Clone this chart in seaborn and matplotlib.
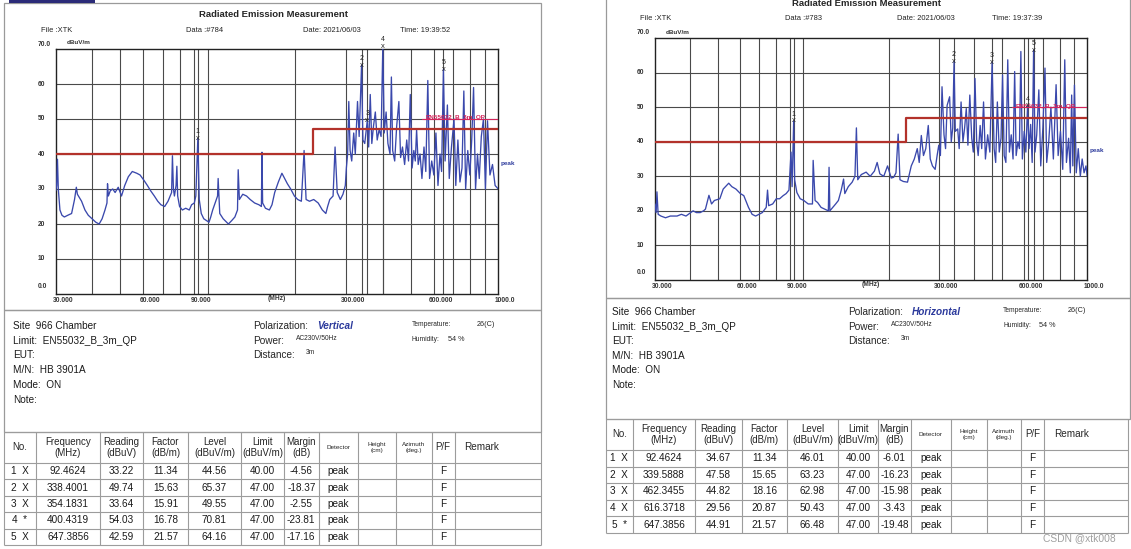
import matplotlib
matplotlib.use("Agg")
import matplotlib.pyplot as plt
import matplotlib.transforms as mtransforms
from matplotlib.patches import Rectangle
import pandas as pd
import seaborn as sns

##### data read off the two reports
# spectrum, vertical polarization (Data #784)
v_freq = [30.0, 30.2, 30.4, 30.6, 31.0, 31.5, 32.1, 33.0, 34.0, 34.8,
          35.3, 35.6, 36.2, 36.8, 37.8, 38.8, 40.0, 41.2, 42.3, 43.3,
          44.3, 45.0, 45.2, 45.5, 46.2, 47.1, 48.0, 49.2, 50.5, 51.8,
          53.3, 55.0, 57.0, 58.5, 60.3, 62.0, 63.6, 65.5, 67.3, 69.0,
          71.1, 73.0, 75.1, 75.6, 76.2, 76.8, 77.8, 78.3, 78.8, 80.0,
          81.8, 84.0, 86.4, 88.0, 89.9, 91.0, 92.46, 93.5, 95.0, 96.9,
          99.0, 101.0, 102.4, 104.0, 106.0, 108.1, 108.6, 110.0, 113.0, 117.8,
          121.0, 124.0, 126.6, 127.3, 128.5, 132.0, 136.0, 140.0, 145.0, 150.0,
          153.0, 153.7, 154.5, 158.0, 163.0, 166.4, 170.0, 175.0, 180.0, 184.0,
          188.0, 193.0, 198.7, 204.0, 210.0, 214.6, 218.0, 224.0, 231.6, 240.0,
          248.0, 255.0, 258.6, 263.0, 270.0, 274.3, 279.0, 286.0, 292.0, 297.5,
          300.0, 303.0, 305.8, 309.0, 313.0, 318.0, 322.0, 327.7, 332.0, 338.4,
          342.0, 347.0, 354.18, 358.0, 362.5, 367.0, 372.0, 377.4, 383.0, 389.0,
          395.0, 400.43, 405.0, 411.0, 417.0, 424.0, 428.6, 433.0, 440.0, 447.0,
          454.8, 461.0, 468.0, 476.0, 484.0, 491.0, 497.8, 505.0, 512.0, 518.0,
          523.4, 530.0, 538.0, 546.0, 555.0, 563.0, 572.0, 580.0, 590.0, 600.0,
          610.0, 620.0, 630.0, 638.0, 647.39, 656.0, 668.0, 678.0, 690.0, 704.0,
          714.0, 726.0, 738.0, 750.0, 761.0, 772.0, 785.0, 798.0, 810.0, 822.0,
          835.0, 848.0, 860.0, 874.0, 889.0, 903.0, 918.0, 936.0, 955.0, 975.0,
          1000.0]
v_level = [29.5, 31.0, 38.5, 30.0, 24.0, 22.5, 22.0, 22.5, 23.0, 27.0,
           30.5, 28.5, 27.5, 26.5, 24.0, 22.5, 21.5, 20.5, 20.0, 21.5,
           24.0, 26.0, 31.5, 28.0, 29.5, 30.0, 29.0, 30.5, 28.0, 31.0,
           33.5, 35.0, 34.5, 34.0, 32.5, 31.0, 29.5, 28.0, 26.5, 25.5,
           25.0, 26.5, 29.0, 39.5, 30.0, 28.0, 31.0, 36.5, 28.0, 25.0,
           24.0, 24.5, 24.0, 25.5, 26.0, 28.0, 44.5, 27.0, 23.0, 21.5,
           21.0, 20.5, 22.0, 24.0, 26.0, 28.0, 33.0, 23.0, 21.5, 20.0,
           21.0, 22.0, 24.0, 35.5, 27.0, 28.5, 28.0, 27.0, 26.0, 25.5,
           25.0, 40.5, 26.0, 24.5, 24.0, 25.5, 29.0, 32.0, 34.5, 33.0,
           31.5, 30.0, 28.0, 27.0, 26.5, 41.0, 27.0, 26.5, 27.0, 26.0,
           24.0, 23.0, 25.0, 27.0, 28.0, 42.0, 29.0, 27.0, 28.5, 31.0,
           36.0, 40.0, 55.0, 41.0, 38.0, 46.0, 40.0, 55.0, 45.0, 65.4,
           44.0, 43.0, 49.6, 42.0, 57.0, 43.0, 48.0, 52.0, 44.0, 47.0,
           45.0, 70.8, 46.0, 52.0, 43.0, 40.0, 62.0, 41.0, 38.0, 48.0,
           55.0, 39.0, 42.0, 37.0, 44.0, 38.0, 57.0, 36.0, 41.0, 38.0,
           47.0, 37.0, 40.0, 33.0, 42.0, 35.0, 61.0, 33.0, 38.0, 34.0,
           46.0, 31.0, 40.0, 35.0, 64.2, 38.0, 54.0, 33.0, 42.0, 50.0,
           31.0, 44.0, 32.0, 36.0, 58.0, 30.0, 41.0, 34.0, 44.0, 59.0,
           30.0, 40.0, 33.0, 45.0, 50.0, 30.0, 49.5, 34.0, 37.0, 31.0,
           30.0]

# spectrum, horizontal polarization (Data #783)
h_freq = [30.0, 30.3, 30.5, 30.8, 31.5, 32.7, 34.0, 35.9, 37.2, 38.6,
          40.9, 42.0, 43.3, 44.5, 45.2, 46.5, 47.5, 48.6, 50.8, 52.2,
          54.6, 56.0, 57.9, 60.0, 61.7, 64.1, 66.0, 67.9, 71.7, 74.0,
          74.8, 75.5, 78.0, 80.3, 82.5, 84.9, 87.0, 89.0, 90.5, 91.3,
          92.46, 93.2, 94.9, 97.5, 100.4, 104.0, 107.7, 108.3, 110.0, 112.3,
          115.5, 118.9, 122.5, 123.2, 124.0, 127.0, 130.0, 132.9, 136.0, 138.6,
          140.0, 144.0, 148.6, 152.0, 153.8, 155.5, 160.0, 166.4, 172.0, 178.0,
          182.0, 186.0, 192.0, 198.0, 204.0, 208.0, 212.0, 215.8, 219.0, 225.0,
          232.8, 240.0, 246.0, 252.0, 256.0, 260.4, 265.0, 270.0, 275.5, 280.0,
          285.0, 291.3, 296.0, 300.0, 304.0, 308.0, 313.0, 317.0, 321.0, 327.6,
          332.0, 336.0, 339.6, 343.0, 349.8, 354.0, 359.5, 365.0, 370.0, 375.0,
          380.0, 385.9, 392.0, 397.0, 402.4, 408.0, 413.0, 419.7, 425.0, 431.4,
          438.0, 446.0, 454.0, 462.35, 470.0, 476.0, 482.5, 490.0, 497.0, 503.3,
          510.0, 517.0, 525.0, 532.0, 540.0, 548.0, 555.2, 562.0, 570.0, 577.0,
          583.9, 591.0, 600.0, 608.0, 616.37, 624.0, 632.0, 640.0, 647.39, 655.0,
          664.0, 675.5, 686.0, 698.0, 710.0, 720.0, 732.0, 745.0, 760.0, 777.0,
          790.0, 805.0, 820.0, 833.6, 845.0, 860.0, 872.0, 881.6, 890.0, 901.8,
          915.0, 930.0, 945.6, 960.0, 975.0, 990.0, 1000.0]
h_level = [22.0, 19.5, 25.5, 19.0, 18.5, 18.0, 18.5, 18.5, 19.0, 18.5,
           20.0, 19.5, 19.5, 20.0, 20.5, 24.5, 22.0, 23.0, 23.5, 26.3,
           28.0, 27.0, 26.3, 25.0, 24.4, 21.0, 19.0, 18.5, 19.5, 21.0,
           26.0, 21.5, 22.0, 23.5, 23.5, 24.4, 25.0, 26.0, 37.0, 27.0,
           46.0, 29.0, 25.3, 23.5, 23.0, 22.0, 22.0, 34.6, 23.0, 22.4,
           21.0, 20.5, 20.0, 32.6, 20.0, 21.0, 22.0, 23.0, 26.0, 29.2,
           25.0, 27.0, 28.3, 30.0, 44.0, 29.0, 30.5, 31.2, 30.0, 31.5,
           34.0, 30.7, 30.0, 33.0, 29.5, 29.7, 31.0, 42.2, 29.0, 28.5,
           28.3, 33.0, 35.0, 38.0, 34.0, 41.8, 36.0, 38.0, 44.7, 35.0,
           33.0, 32.0, 36.0, 39.0, 36.0, 55.9, 42.0, 38.0, 50.5, 53.0,
           40.0, 44.0, 63.2, 43.0, 43.7, 38.0, 51.5, 40.0, 44.0, 49.6,
           39.0, 53.5, 41.0, 37.0, 58.3, 40.0, 36.0, 44.7, 38.0, 51.5,
           35.0, 42.0, 37.0, 63.0, 38.0, 34.0, 51.5, 37.0, 41.0, 59.3,
           36.0, 34.0, 63.7, 37.0, 42.0, 35.0, 60.3, 36.0, 40.0, 38.0,
           66.1, 35.0, 43.0, 37.0, 50.4, 38.0, 45.0, 34.0, 66.5, 37.0,
           42.0, 55.0, 33.0, 44.0, 61.3, 34.0, 40.0, 50.0, 35.0, 56.5,
           36.0, 43.0, 32.0, 63.7, 34.0, 41.0, 31.0, 53.5, 33.0, 56.4,
           31.0, 38.0, 30.0, 35.0, 31.0, 33.0, 30.0]

# EN55032 class B 3m QP limit
lim_freq = [30, 230, 230, 1000]
lim_level = [40, 40, 47, 47]

# marker tables
v_mark_no = ['1  X', '2  X', '3  X', '4  *', '5  X']
v_mark_freq = [92.4624, 338.4001, 354.1831, 400.4319, 647.3856]
v_reading = [33.22, 49.74, 33.64, 54.03, 42.59]
v_factor = [11.34, 15.63, 15.91, 16.78, 21.57]
v_mark_level = [44.56, 65.37, 49.55, 70.81, 64.16]
v_limit = [40.00, 47.00, 47.00, 47.00, 47.00]
v_margin = [-4.56, -18.37, -2.55, -23.81, -17.16]

h_mark_no = ['1  X', '2  X', '3  X', '4  X', '5  *']
h_mark_freq = [92.4624, 339.5888, 462.3455, 616.3718, 647.3856]
h_reading = [34.67, 47.58, 44.82, 29.56, 44.91]
h_factor = [11.34, 15.65, 18.16, 20.87, 21.57]
h_mark_level = [46.01, 63.23, 62.98, 50.43, 66.48]
h_limit = [40.00, 47.00, 47.00, 47.00, 47.00]
h_margin = [-6.01, -16.23, -15.98, -3.43, -19.48]

x_ticks = [30, 60, 90, 300, 600, 1000]
x_tick_labels = ['30.000', '60.000', '90.000', '300.000', '600.000', '1000.0']
y_ticks = [70, 60, 50, 40, 30, 20, 10, 0]
y_tick_labels = ['70.0', '60', '50', '40', '30', '20', '10', '0.0']
grid_freq = [40, 50, 60, 70, 80, 90, 100, 200, 300, 400, 500, 600, 700, 800, 900]
grid_level = [10, 20, 30, 40, 50, 60]

col_heads = ['No.', 'Frequency\n(MHz)', 'Reading\n(dBuV)', 'Factor\n(dB/m)', 'Level\n(dBuV/m)',
             'Limit\n(dBuV/m)', 'Margin\n(dB)', 'Detector', 'Height\n(cm)', 'Azimuth\n(deg.)',
             'P/F', 'Remark']

TRACE = '#3a48ac'
LIMIT = '#b3322b'
ENRED = '#d3245a'
GRID = '#4a4a4a'
FRAME = '#9a9a9a'
NAVY = '#2c3a9c'

sns.set_style('white')
plt.rcParams['font.family'] = ['Liberation Sans', 'DejaVu Sans']

W, H = 1131, 549
fig = plt.figure(figsize=(W / 100, H / 100), dpi=100)
canvas = fig.add_axes([0, 0, 1, 1])
canvas.set_xlim(0, W)
canvas.set_ylim(H, 0)
canvas.axis('off')


def rect(x0, y0, x1, y1):
    return [x0 / W, 1 - y1 / H, (x1 - x0) / W, (y1 - y0) / H]


def frame(x0, y0, x1, y1, color=FRAME, lw=0.9):
    canvas.add_patch(Rectangle((x0, y0), x1 - x0, y1 - y0, fill=False, ec=color, lw=lw))


def put(ax, x, y, s, trans, dx=0, dy=0, **kw):
    tr = mtransforms.offset_copy(trans, fig=fig, x=dx, y=dy, units='dots')
    ax.text(x, y, s, transform=tr, **kw)


def chart(box, freq, level, mk_freq, mk_level):
    ax = fig.add_axes(rect(*box))
    ax.set_xscale('log')
    for g in grid_freq:
        ax.axvline(g, color=GRID, lw=0.8, zorder=1)
    for g in grid_level:
        ax.axhline(g, color=GRID, lw=0.8, zorder=1)
    for f in mk_freq:
        ax.axvline(f, color=GRID, lw=0.8, zorder=1)
    df = pd.DataFrame({'freq': freq, 'level': level})
    sns.lineplot(data=df, x='freq', y='level', ax=ax, color=TRACE, lw=0.95,
                 estimator=None, sort=False, zorder=3)
    sns.lineplot(x=lim_freq, y=lim_level, ax=ax, color=LIMIT, lw=1.6,
                 estimator=None, sort=False, zorder=4)
    ax.plot([545, 1000], [50, 50], color=ENRED, lw=0.8, zorder=4)
    ax.text(560, 50.3, 'EN55032_B_3m_QP', color=ENRED, fontsize=4.6,
            fontweight='bold', va='center', ha='left', zorder=5)
    ax.set_xlim(30, 1000)
    ax.set_ylim(0, 70)
    ax.xaxis.set_major_locator(matplotlib.ticker.NullLocator())
    ax.xaxis.set_minor_locator(matplotlib.ticker.NullLocator())
    ax.set_yticks([])
    ax.set_xlabel('')
    ax.set_ylabel('')
    for s in ax.spines.values():
        s.set_color('#222222')
        s.set_linewidth(1.0)

    # markers
    for i, (f, lv) in enumerate(zip(mk_freq, mk_level)):
        ax.text(f, lv, 'x', ha='center', va='center', fontsize=5.5,
                clip_on=False, zorder=6)
        ax.text(f, lv + 1.9, str(i + 1), ha='center', va='center',
                fontsize=5, clip_on=False, zorder=6)

    xt = ax.get_xaxis_transform()
    for f, s in zip(x_ticks, x_tick_labels):
        put(ax, f, 0, s, xt, dx=7, dy=-6, ha='center', va='center',
            fontsize=4.8, fontweight='bold', color='#333333')
    put(ax, 0.499, 0, '(MHz)', ax.transAxes, dy=-5, ha='center', va='center',
        fontsize=4.8, fontweight='bold', color='#333333')
    yt = mtransforms.blended_transform_factory(ax.transAxes, ax.transData)
    for v, s in zip(y_ticks, y_tick_labels):
        lift = 5 if v == 70 else (8 if v == 0 else 0)
        put(ax, 0, v, s, yt, dx=-18, dy=lift, ha='left', va='center',
            fontsize=4.8, fontweight='bold', color='#333333')
    put(ax, 0, 1, 'dBuV/m', ax.transAxes, dx=11, dy=6, ha='left', va='center',
        fontsize=4.6, fontweight='bold', color='#333333')
    put(ax, 1, 37.4, 'peak', yt, dx=2, ha='left', va='center',
        fontsize=4.6, fontweight='bold', color=NAVY)
    return ax


def header(x_title, y_title, y_row, xs, data_no, time):
    canvas.text(x_title, y_title, 'Radiated Emission Measurement', ha='center',
                va='center', fontsize=6.8, fontweight='bold')
    for x, s in zip(xs, ['File :XTK', 'Data :#' + data_no, 'Date: 2021/06/03', 'Time: ' + time]):
        canvas.text(x, y_row, s, ha='left', va='center', fontsize=5.4, color='#222222')


def info(x0, xm, xr, y0, dy, pol):
    lines = ['Site  966 Chamber', 'Limit:  EN55032_B_3m_QP', 'EUT:', 'M/N:  HB 3901A',
             'Mode:  ON', 'Note:']
    for i, s in enumerate(lines):
        canvas.text(x0, y0 + i * dy, s, ha='left', va='center', fontsize=7.2, color='#1a1a1a')
    canvas.text(xm, y0, 'Polarization:', ha='left', va='center', fontsize=7.2)
    canvas.text(xm + 64, y0, pol, ha='left', va='center', fontsize=7.2,
                fontweight='bold', fontstyle='italic', color=NAVY)
    canvas.text(xm, y0 + dy, 'Power:', ha='left', va='center', fontsize=7.2)
    canvas.text(xm + 43, y0 + dy - 2.5, 'AC230V/50Hz', ha='left', va='center', fontsize=4.8)
    canvas.text(xm, y0 + 2 * dy, 'Distance:', ha='left', va='center', fontsize=7.2)
    canvas.text(xm + 53, y0 + 2 * dy - 2.5, '3m', ha='left', va='center', fontsize=4.8)
    canvas.text(xr, y0 - 1.5, 'Temperature:', ha='left', va='center', fontsize=4.8)
    canvas.text(xr + 65, y0 - 1.5, '26(C)', ha='left', va='center', fontsize=5.2)
    canvas.text(xr, y0 + dy - 1.5, 'Humidity:', ha='left', va='center', fontsize=4.8)
    canvas.text(xr + 36, y0 + dy - 1.5, '54 %', ha='left', va='center', fontsize=5.2)


def table(edges, top, head_bot, bottom, cols):
    n = len(cols[0])
    rh = (bottom - head_bot) / n
    lc = '#9c9c9c'
    canvas.hlines([top, head_bot] + [head_bot + rh * (i + 1) for i in range(n)],
                  edges[0], edges[-1], color=lc, lw=0.8)
    canvas.vlines(edges, top, bottom, color=lc, lw=0.8)
    hy = (top + head_bot) / 2
    for j, h in enumerate(col_heads):
        cx = (edges[j] + edges[j + 1]) / 2
        small = h.startswith(('Detector', 'Height', 'Azimuth'))
        if h == 'Remark':
            canvas.text(edges[j] + 10, hy, h, ha='left', va='center', fontsize=7.2)
        else:
            canvas.text(cx, hy, h, ha='center', va='center', linespacing=1.05,
                        fontsize=4.6 if small else 7.0)
    for i in range(n):
        cy = head_bot + rh * (i + 0.5)
        for j, col in enumerate(cols):
            cx = (edges[j] + edges[j + 1]) / 2
            canvas.text(cx, cy, col[i], ha='center', va='center', fontsize=7.2,
                        color='#1a1a1a')


def fmt(vals, d):
    return [f'{v:.{d}f}' for v in vals]


# ---- left report (vertical)
frame(4, 3, 541, 310)
frame(4, 310, 541, 432)
canvas.add_patch(Rectangle((8.5, 0), 86, 2.8, color='#2b2b78', lw=0))
header(273.8, 14.5, 30.3, [40.6, 186, 303, 399.5], '784', '19:39:52')
chart((55.8, 49, 498.3, 294), v_freq, v_level, v_mark_freq, v_mark_level)
info(13, 253, 411.5, 325.8, 14.8, 'Vertical')
table([4, 36, 100, 143, 188, 241, 284, 318.5, 358, 396, 432, 454.5, 541], 432, 463, 545,
      [v_mark_no, fmt(v_mark_freq, 4), fmt(v_reading, 2), fmt(v_factor, 2),
       fmt(v_mark_level, 2), fmt(v_limit, 2), fmt(v_margin, 2), ['peak'] * 5,
       [''] * 5, [''] * 5, ['F'] * 5, [''] * 5])

# ---- right report (horizontal)
frame(605.5, -5, 1130, 297.6)
frame(605.5, 297.6, 1130, 418.8)
header(866, 3.5, 18, [640, 785, 897, 992], '783', '19:37:39')
chart((654.9, 38, 1087.2, 280), h_freq, h_level, h_mark_freq, h_mark_level)
info(612.4, 848, 1003, 312.4, 14.5, 'Horizontal')
table([605.5, 633, 695, 742, 786.7, 838.4, 878, 911, 950.6, 986.8, 1021, 1043.8, 1128],
      418.8, 450, 533,
      [h_mark_no, fmt(h_mark_freq, 4), fmt(h_reading, 2), fmt(h_factor, 2),
       fmt(h_mark_level, 2), fmt(h_limit, 2), fmt(h_margin, 2), ['peak'] * 5,
       [''] * 5, [''] * 5, ['F'] * 5, [''] * 5])

canvas.text(1116, 538, 'CSDN @xtk008', ha='right', va='center', fontsize=7.4, color='#a0a0a0')

fig.savefig('out.png', dpi=100)
